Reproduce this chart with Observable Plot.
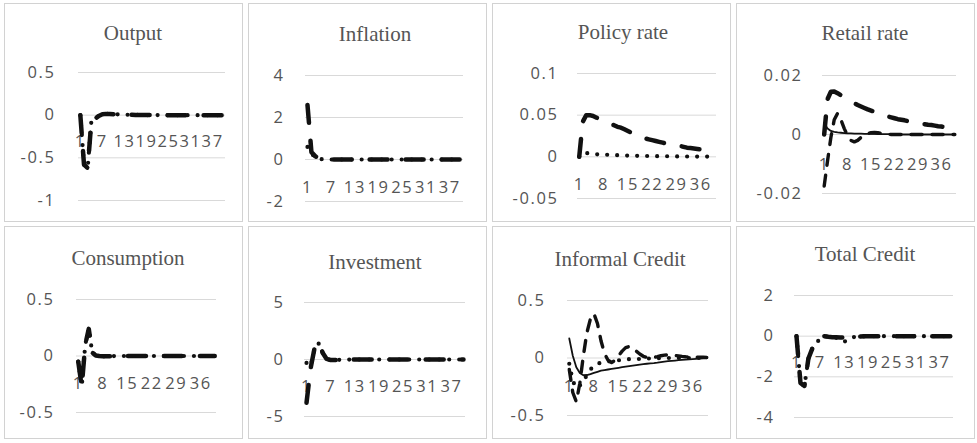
<!DOCTYPE html>
<html><head><meta charset="utf-8">
<script src="https://cdn.jsdelivr.net/npm/d3@7"></script>
<script src="https://cdn.jsdelivr.net/npm/@observablehq/plot@0.6"></script>
<style>
html,body{margin:0;padding:0;background:#fff;}
#wrap{position:relative;width:977px;height:443px;overflow:hidden;background:#fff;}
.panel{position:absolute;background:#fff;}
.panel svg{position:absolute;left:0;top:0;overflow:visible;}
.frame{position:absolute;left:0;top:0;right:0;bottom:0;border:1px solid #d2d2d2;pointer-events:none;}
.title{position:absolute;font-family:"Liberation Serif",serif;font-size:21px;line-height:1;color:#555;transform:translate(-50%,-50%);white-space:nowrap;}
</style></head><body><div id="wrap"></div><script>
// ---- categories ----
const periods = [1,2,3,4,5,6,7,8,9,10, 11,12,13,14,15,16,17,18,19,20, 21,22,23,24,25,26,27,28,29,30, 31,32,33,34,35,36,37,38,39,40];
const xTicksA = [1,7,13,19,25,31,37];
const xTicksB = [1,8,15,22,29,36];
const titles = ["Output","Inflation","Policy rate","Retail rate","Consumption","Investment","Informal Credit","Total Credit"];

// ---- y tick labels ----
const outputYTicks = [-1,-0.5,0,0.5];
const inflationYTicks = [-2,0,2,4];
const policyYTicks = [-0.05,0,0.05,0.1];
const retailYTicks = [-0.02,0,0.02];
const consumptionYTicks = [-0.5,0,0.5];
const investmentYTicks = [-5,0,5];
const informalYTicks = [-0.5,0,0.5];
const totalYTicks = [-4,-2,0,2];

// ---- series values (periods 1..40) ----
const outputDash = [0,-0.58,-0.62,-0.07,-0.04,-0.01,0.01,0.015,0.015,0.012, 0.01,0.008,0.006,0.005,0.004,0.003,0.002,0.002,0.001,0.001, 0.001,0.001,0,0,0,0,0,0,0,0, 0,0,0,0,0,0,0,0,0,0];
const inflationDash = [2.6,0.35,0.15,0.05,0.02,0.01,0,0,0,0, 0,0,0,0,0,0,0,0,0,0, 0,0,0,0,0,0,0,0,0,0, 0,0,0,0,0,0,0,0,0,0];
const inflationDot = [0.6,0.3,0.08,0.02,0.01,0,0,0,0,0, 0,0,0,0,0,0,0,0,0,0, 0,0,0,0,0,0,0,0,0,0, 0,0,0,0,0,0,0,0,0,0];
const policyDash = [0,0.042,0.05,0.05,0.049,0.047,0.045,0.043,0.041,0.039, 0.038,0.036,0.035,0.033,0.031,0.029,0.027,0.025,0.024,0.022, 0.021,0.02,0.019,0.018,0.017,0.016,0.015,0.014,0.0135,0.013, 0.012,0.011,0.0105,0.01,0.0095,0.009,0.0085,0.008,0.0077,0.0074];
const policyDot = [0,0.005,0.0045,0.004,0.0035,0.003,0.003,0.0025,0.0025,0.002, 0.002,0.002,0.0018,0.0016,0.0015,0.0014,0.0013,0.0012,0.0011,0.001, 0.001,0.0009,0.0008,0.0008,0.0007,0.0007,0.0006,0.0006,0.0005,0.0005, 0.0005,0.0004,0.0004,0.0004,0.0003,0.0003,0.0003,0.0003,0.0002,0.0002];
const retailDash = [0,0.012,0.0145,0.0146,0.014,0.0133,0.0126,0.0119,0.0112,0.0106, 0.01,0.0095,0.009,0.0085,0.0081,0.0077,0.0073,0.0069,0.0065,0.0061, 0.0058,0.0055,0.0052,0.005,0.0048,0.0045,0.0043,0.0041,0.0039,0.0037, 0.0035,0.0033,0.0032,0.003,0.0028,0.0027,0.0025,0.0024,0.0023,0.0022];
const retailMid = [-0.0175,-0.009,-0.001,0.005,0.0072,0.005,0.002,-0.0005,-0.002,-0.0025, -0.002,-0.001,-0.0003,0.0003,0.0006,0.0007,0.0006,0.0004,0.0002,0.0001, 0,0,0,0,0,0,0,0,0,0, 0,0,0,0,0,0,0,0,0,0];
const retailSolid = [0.004,0.002,0.0012,0.0009,0.0007,0.0006,0.0005,0.0004,0.0004,0.0003, 0.0003,0.0003,0.0002,0.0002,0.0002,0.0002,0.0001,0.0001,0.0001,0.0001, 0.0001,0.0001,0,0,0,0,0,0,0,0, 0,0,0,0,0,0,0,0,0,0];
const consumptionDash = [-0.05,-0.27,0.1,0.24,0.03,0.005,0,-0.003,-0.003,-0.002, -0.001,0,0,0,0,0,0,0,0,0, 0,0,0,0,0,0,0,0,0,0, 0,0,0,0,0,0,0,0,0,0];
const investmentDash = [-3.8,-0.8,1.0,1.5,0.6,0.05,-0.05,-0.05,-0.03,-0.02, -0.01,0,0,0,0,0,0,0,0,0, 0,0,0,0,0,0,0,0,0,0, 0,0,0,0,0,0,0,0,0,0];
const investmentDot = [-0.3,-0.6,0.9,1.4,0.6,0.05,-0.05,-0.05,-0.03,-0.02, -0.01,0,0,0,0,0,0,0,0,0, 0,0,0,0,0,0,0,0,0,0, 0,0,0,0,0,0,0,0,0,0];
const informalMid = [-0.1,-0.3,-0.38,-0.22,0.02,0.22,0.34,0.385,0.3,0.15, 0.04,-0.02,-0.04,-0.02,0.02,0.06,0.09,0.1,0.09,0.06, 0.035,0.015,0.005,0,0.005,0.012,0.02,0.025,0.028,0.026, 0.022,0.018,0.014,0.011,0.009,0.008,0.007,0.006,0.006,0.005];
const informalDot = [-0.05,-0.2,-0.26,-0.24,-0.2,-0.15,-0.1,-0.07,-0.05,-0.04, -0.03,-0.03,-0.025,-0.02,-0.02,-0.015,-0.015,-0.01,-0.01,-0.01, -0.008,-0.006,-0.005,-0.004,-0.003,-0.002,-0.002,-0.001,0,0, 0,0,0,0,0,0,0,0,0,0];
const informalSolid = [0.17,0.02,-0.08,-0.13,-0.15,-0.148,-0.14,-0.13,-0.12,-0.11, -0.105,-0.1,-0.095,-0.09,-0.085,-0.08,-0.075,-0.07,-0.066,-0.062, -0.058,-0.054,-0.05,-0.047,-0.044,-0.04,-0.035,-0.031,-0.028,-0.025, -0.022,-0.019,-0.016,-0.014,-0.012,-0.01,-0.008,-0.006,-0.004,-0.003];
const totalDash = [0,-2.3,-2.45,-1.1,-0.6,-0.35,-0.1,0,-0.03,-0.05, -0.05,-0.06,-0.06,-0.05,-0.04,-0.03,-0.02,-0.01,0,0, 0,0,0,0,0,0,0,0,0,0, 0,0,0,0,0,0,0,0,0,0];
const totalDot = [0,-2.3,-2.45,-1.1,-0.6,-0.35,-0.1,0,-0.03,-0.05, -0.08,-0.15,-0.28,-0.15,-0.06,-0.03,-0.02,-0.01,0,0, 0,0,0,0,0,0,0,0,0,0, 0,0,0,0,0,0,0,0,0,0];

// ---- line styles ----
const styles = {
  dash:  {stroke:"#111", strokeWidth:4.5, strokeDasharray:"18,18", strokeLinecap:"round", strokeLinejoin:"round"},
  mid:   {stroke:"#111", strokeWidth:3.4, strokeDasharray:"11,10", strokeLinecap:"round", strokeLinejoin:"round"},
  dot:   {stroke:"#111", strokeWidth:4.2, strokeDasharray:"0,10",  strokeLinecap:"round", strokeLinejoin:"round"},
  solid: {stroke:"#111", strokeWidth:1.8, strokeLinecap:"round", strokeLinejoin:"round"}
};

// ---- layout ----
const colX = [4,248,492,736];
const rowY = [3,226];
const rowH = [219,213];
const panelW = 239;

const panels = [
  {col:0,row:0,mL:74,mR:18,mT:69,mB:22,yd:[-1,0.5],yt:outputYTicks,xt:xTicksA,pad:23,ldy:27,tx:129,ty:30,series:[[outputDash,"dash"],[outputDash,"dot"]]},
  {col:1,row:0,mL:57,mR:24,mT:72,mB:21,yd:[-2,4],yt:inflationYTicks,xt:xTicksA,pad:21,ldy:28,tx:127,ty:31,series:[[inflationDash,"dash"],[inflationDot,"dot"]]},
  {col:2,row:0,mL:85,mR:15,mT:70,mB:24,yd:[-0.05,0.1],yt:policyYTicks,xt:xTicksB,pad:19,ldy:28,tx:131,ty:29,series:[[policyDot,"dot"],[policyDash,"dash"]]},
  {col:3,row:0,mL:86,mR:19,mT:72,mB:29,yd:[-0.02,0.02],yt:retailYTicks,xt:xTicksB,pad:20,ldy:30,tx:129,ty:30,series:[[retailSolid,"solid"],[retailMid,"mid"],[retailDash,"dash"]]},
  {col:0,row:1,mL:72,mR:27,mT:73,mB:27,yd:[-0.5,0.5],yt:consumptionYTicks,xt:xTicksB,pad:22,ldy:28,tx:124,ty:32,series:[[consumptionDash,"dash"],[consumptionDash,"dot"]]},
  {col:1,row:1,mL:56,mR:22,mT:76,mB:23,yd:[-5,5],yt:investmentYTicks,xt:xTicksA,pad:20,ldy:27,tx:127,ty:36,series:[[investmentDash,"dash"],[investmentDot,"dot"]]},
  {col:2,row:1,mL:75,mR:23,mT:74,mB:24,yd:[-0.5,0.5],yt:informalYTicks,xt:xTicksB,pad:22,ldy:29,tx:128,ty:33,series:[[informalSolid,"solid"],[informalDot,"dot"],[informalMid,"mid"]]},
  {col:3,row:1,mL:58,mR:22,mT:69,mB:22,yd:[-4,2],yt:totalYTicks,xt:xTicksA,pad:20,ldy:27,tx:129,ty:28,series:[[totalDash,"dash"],[totalDot,"dot"]]}
];

const wrap = document.getElementById("wrap");
panels.forEach((p, k) => {
  const div = document.createElement("div");
  div.className = "panel";
  const h = rowH[p.row];
  div.style.left = colX[p.col] + "px";
  div.style.top = rowY[p.row] + "px";
  div.style.width = panelW + "px";
  div.style.height = h + "px";

  const marks = [
    Plot.gridY(p.yt, {stroke:"#d9d9d9", strokeOpacity:1, strokeWidth:1}),
    Plot.axisY(p.yt, {tickSize:0, tickPadding:p.pad, tickFormat:d => String(d), label:null}),
    Plot.text(p.xt, {x:d => d, y:() => 0, dy:p.ldy, text:d => String(d), fill:"#555", lineAnchor:"middle", textAnchor:"middle"})
  ];
  p.series.forEach(([vals, st]) => {
    const rows = periods.map((t, i) => ({t, v: vals[i]}));
    marks.push(Plot.line(rows, {x:"t", y:"v", ...styles[st]}));
  });

  const svg = Plot.plot({
    width: panelW, height: h,
    marginLeft:p.mL, marginRight:p.mR, marginTop:p.mT, marginBottom:p.mB,
    x:{domain:[0.5,40.5], axis:null},
    y:{domain:p.yd},
    style:{fontFamily:"'Open Sans', sans-serif", fontSize:"16.5px", color:"#555", background:"transparent", letterSpacing:"1.6px"},
    marks
  });
  div.appendChild(svg);

  const t = document.createElement("div");
  t.className = "title";
  t.textContent = titles[k];
  t.style.left = p.tx + "px";
  t.style.top = p.ty + "px";
  div.appendChild(t);

  const f = document.createElement("div");
  f.className = "frame";
  div.appendChild(f);
  wrap.appendChild(div);
});
</script></body></html>
